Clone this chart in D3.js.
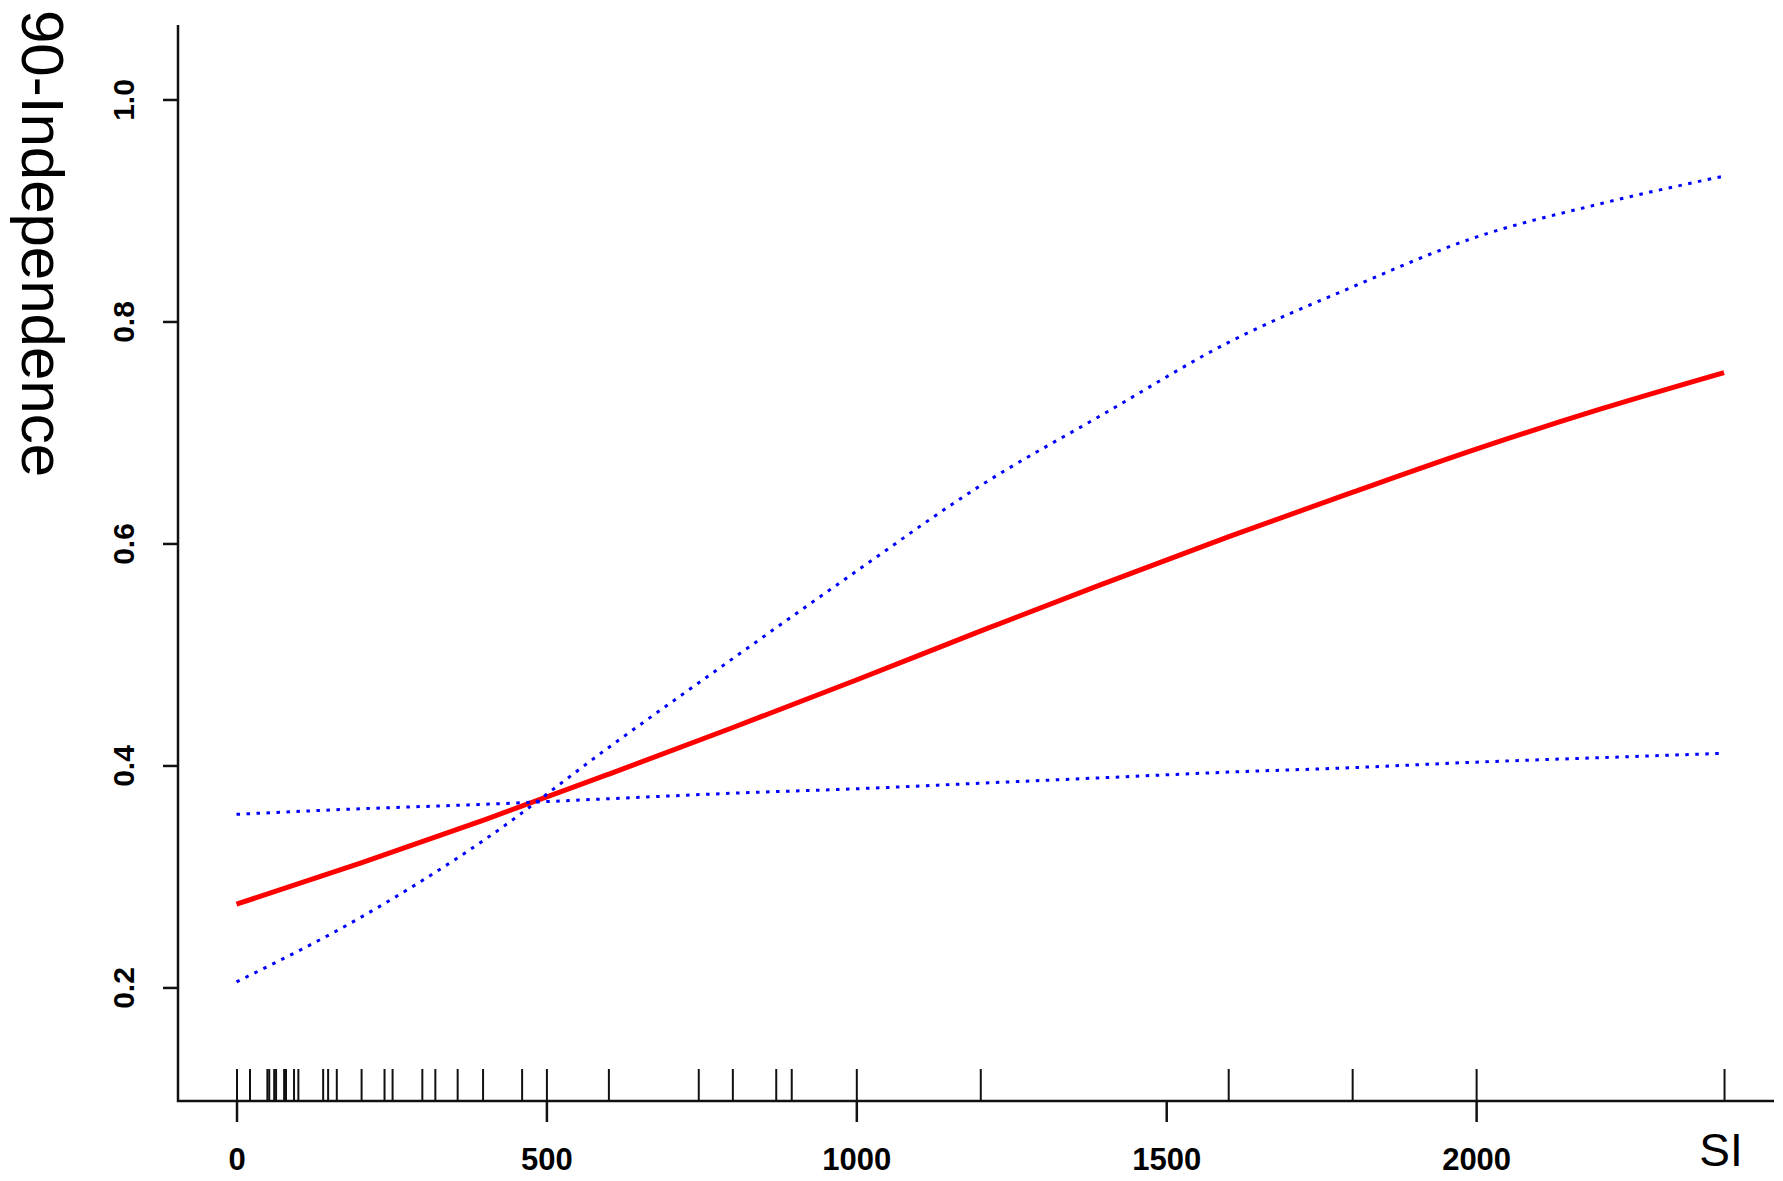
<!DOCTYPE html>
<html>
<head>
<meta charset="utf-8">
<script src="https://cdn.jsdelivr.net/npm/d3@7"></script>
<style>
  body { margin: 0; background: #fff; }
</style>
</head>
<body>
<svg id="chart" width="1783" height="1181"></svg>
<script>
var siGrid = [0, 200, 400, 600, 800, 1000, 1200, 1400, 1600, 1800, 2000, 2200, 2400];

// fitted curve (red)
var fitValues = [0.275, 0.312, 0.351, 0.392, 0.434, 0.477, 0.521, 0.564, 0.606, 0.646, 0.685, 0.721, 0.754];

// confidence band (blue dotted)
var upperValues = [0.205, 0.263, 0.333, 0.416, 0.496, 0.575, 0.652, 0.717, 0.781, 0.831, 0.876, 0.906, 0.931];
var lowerValues = [0.356, 0.361, 0.365, 0.370, 0.375, 0.379, 0.384, 0.389, 0.394, 0.398, 0.403, 0.407, 0.411];

// observed SI values (rug)
var rugValues = [0, 21, 49, 52, 60, 63, 76, 79, 92, 99, 139, 147, 161, 201, 238, 251, 299, 320, 356, 397, 460, 500,
                 600, 745, 800, 870, 895, 1000, 1200, 1600, 1800, 2000, 2400];

var xTicks = [0, 500, 1000, 1500, 2000];
var yTicks = [0.2, 0.4, 0.6, 0.8, 1.0];

var xLabel = "SI";
var yLabel = "90-Independence";

var svg = d3.select('#chart');

var x = d3.scaleLinear().domain([-94.4, 2480.6]).range([178, 1774]);
var y = d3.scaleLinear().domain([0.0977, 1.0671]).range([1101, 25]);

var fontFam = '"Liberation Sans", Arial, sans-serif';

// L shaped frame
svg.append('path')
    .attr('d', 'M' + x.range()[0] + ',' + y.range()[1] + 'V' + y.range()[0] + 'H' + x.range()[1])
    .attr('fill', 'none')
    .attr('stroke', '#111')
    .attr('stroke-width', 2.5);

// y axis
var gy = svg.append('g')
    .attr('transform', 'translate(' + x.range()[0] + ',0)')
    .call(d3.axisLeft(y).tickValues(yTicks).tickSize(15).tickFormat(d3.format('.1f')));
gy.select('.domain').remove();
gy.selectAll('line').attr('stroke', '#111').attr('stroke-width', 2.5);
gy.selectAll('text')
    .attr('x', null)
    .attr('dy', null)
    .attr('text-anchor', 'middle')
    .attr('transform', 'translate(-44,0) rotate(-90)')
    .attr('fill', '#000')
    .style('font-family', fontFam)
    .style('font-size', '30px')
    .style('font-weight', 'bold');

// x axis
var gx = svg.append('g')
    .attr('transform', 'translate(0,' + y.range()[0] + ')')
    .call(d3.axisBottom(x).tickValues(xTicks).tickSize(21).tickPadding(26).tickFormat(d3.format('d')));
gx.select('.domain').remove();
gx.selectAll('line').attr('stroke', '#111').attr('stroke-width', 2.5);
gx.selectAll('text')
    .attr('fill', '#000')
    .style('font-family', fontFam)
    .style('font-size', '31px')
    .style('font-weight', 'bold');

// rug
var gr = svg.append('g')
    .attr('transform', 'translate(0,' + y.range()[0] + ')')
    .call(d3.axisTop(x).tickValues(rugValues).tickSize(32).tickFormat(''));
gr.select('.domain').remove();
gr.selectAll('line').attr('stroke', '#111').attr('stroke-width', 2);

// curves
var line = d3.line()
    .x(function(d, i) { return x(siGrid[i]); })
    .y(function(d) { return y(d); })
    .curve(d3.curveMonotoneX);

svg.append('path')
    .datum(fitValues)
    .attr('d', line)
    .attr('fill', 'none')
    .attr('stroke', '#ff0000')
    .attr('stroke-width', 5);

[upperValues, lowerValues].forEach(function(vals) {
    svg.append('path')
        .datum(vals)
        .attr('d', line)
        .attr('fill', 'none')
        .attr('stroke', '#0000ff')
        .attr('stroke-width', 3)
        .attr('stroke-dasharray', '3.5 6.5');
});

// axis titles
svg.append('text')
    .attr('x', 1721)
    .attr('y', 1166)
    .attr('text-anchor', 'middle')
    .style('font-family', fontFam)
    .style('font-size', '46px')
    .text(xLabel);

svg.append('text')
    .attr('transform', 'translate(22,10) rotate(90)')
    .attr('text-anchor', 'start')
    .style('font-family', fontFam)
    .style('font-size', '60px')
    .text(yLabel);
</script>
</body>
</html>
